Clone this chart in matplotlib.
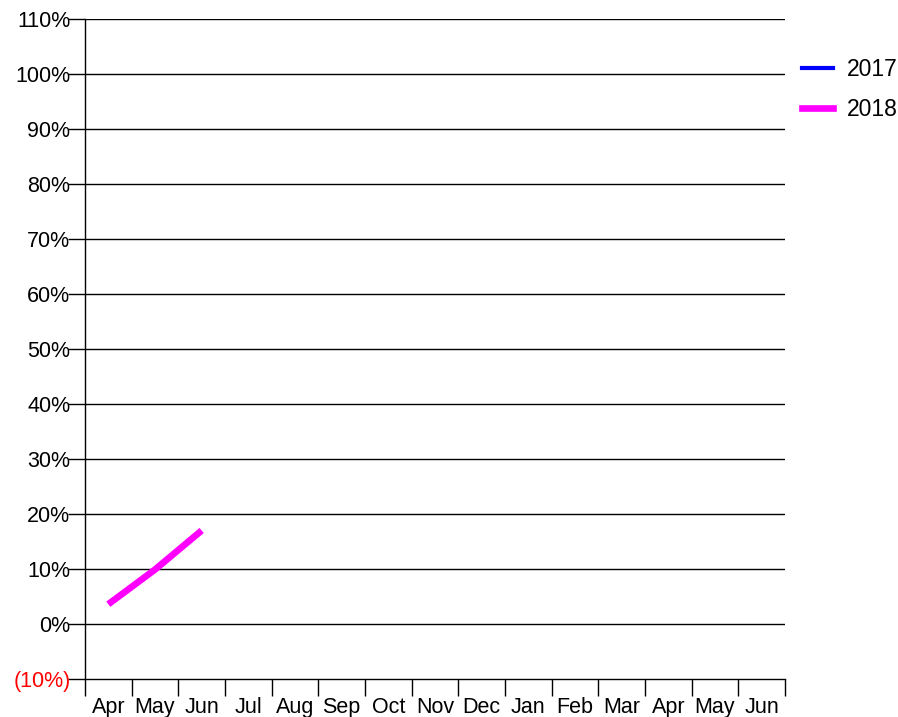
import matplotlib
matplotlib.use("Agg")
import matplotlib.pyplot as plt
import numpy as np
from matplotlib.lines import Line2D

months = ["Apr", "May", "Jun", "Jul", "Aug", "Sep", "Oct", "Nov", "Dec",
          "Jan", "Feb", "Mar", "Apr", "May", "Jun"]
series_2017 = [None] * 15
series_2018 = [3.6, 9.9, 17.0] + [None] * 12
yticks = list(range(-10, 111, 10))

W, H = 898, 717
fig = plt.figure(figsize=(W / 100, H / 100), dpi=100)
ax = fig.add_axes([85 / W, (H - 679) / H, 700 / W, 660 / H])

x = np.arange(len(months))
y17 = np.array([np.nan if v is None else v for v in series_2017], dtype=float)
y18 = np.array([np.nan if v is None else v for v in series_2018], dtype=float)
ax.plot(x, y17, color="#0000ff", lw=3, solid_capstyle="butt")
ax.plot(x, y18, color="#ff00ff", lw=4.8, solid_capstyle="butt")

ax.set_xlim(-0.5, len(months) - 0.5)
ax.set_ylim(-10, 110)

for s in ["top", "right"]:
    ax.spines[s].set_visible(False)
for s in ["left", "bottom"]:
    ax.spines[s].set_color("black")
    ax.spines[s].set_linewidth(1)

ax.set_yticks(yticks)
ax.set_yticklabels([f"({abs(v)}%)" if v < 0 else f"{v}%" for v in yticks],
                   fontfamily="Liberation Sans", fontsize=15.5)
for lbl, v in zip(ax.get_yticklabels(), yticks):
    if v < 0:
        lbl.set_color("red")
ax.tick_params(axis="y", length=12, width=1, pad=-1.5, color="black")
for v in yticks[1:]:
    ax.axhline(v, color="black", lw=1, zorder=0)

ax.set_xticks(np.arange(-0.5, len(months), 1.0))
ax.set_xticklabels([])
ax.set_xticks(x, minor=True)
ax.set_xticklabels(months, minor=True, fontfamily="Liberation Sans", fontsize=15.5)
ax.tick_params(axis="x", which="major", length=12, width=1, color="black")
ax.tick_params(axis="x", which="minor", length=0, pad=13)

handles = [Line2D([], [], color="#0000ff", lw=3),
           Line2D([], [], color="#ff00ff", lw=4.8)]
fig.legend(handles, ["2017", "2018"], loc="upper left",
           bbox_to_anchor=(793 / W, 1 - 49 / H), frameon=False,
           borderaxespad=0,
           prop={"family": "Liberation Sans", "size": 16.5},
           handlelength=1.35, handletextpad=0.61, labelspacing=0.72)

fig.savefig("out.png", dpi=100)
